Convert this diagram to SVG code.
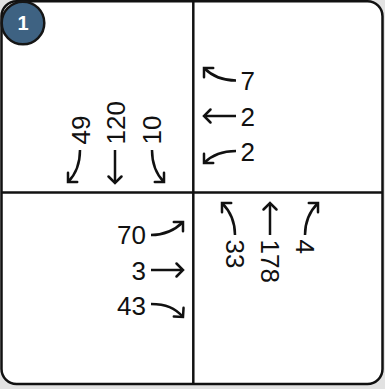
<svg xmlns="http://www.w3.org/2000/svg" width="385" height="389" viewBox="0 0 385 389">
  <defs>
    <marker id="ah" markerUnits="userSpaceOnUse" viewBox="-10 -10 20 20" markerWidth="20" markerHeight="20" refX="0" refY="0" orient="auto" overflow="visible">
      <path d="M-6.5,-6.5 L0,0 L-6.5,6.5" fill="none" stroke="#111" stroke-width="2.5" stroke-linecap="round" stroke-linejoin="miter"/>
    </marker>
  </defs>
  <style>
    .lbl { font-family: "Liberation Sans", Arial, sans-serif; font-size: 26px; fill: #111; }
    .arr { fill: none; stroke: #111; stroke-width: 2.5; marker-end: url(#ah); }
    .frame { fill: #fff; stroke: #111; stroke-width: 2.5; }
    .div { stroke: #111; stroke-width: 2.5; }
  </style>
  <rect x="0" y="0" width="385" height="389" fill="#e2e2e2"/>
  <g id="frame">
    <rect class="frame" x="1.5" y="1.3" width="381" height="382.7" rx="15" ry="15"/>
    <line class="div" x1="193.3" y1="1.3" x2="193.3" y2="384"/>
    <line class="div" x1="1.5" y1="192.5" x2="382.5" y2="192.5"/>
  </g>
  <g id="badge">
    <circle cx="23" cy="23" r="21.3" fill="#3e6282" stroke="#151515" stroke-width="2.5"/>
    <text x="23" y="30" text-anchor="middle" font-family="'Liberation Sans', Arial, sans-serif" font-size="20" font-weight="bold" fill="#fff">1</text>
  </g>
  <g id="north-labels">
    <text class="lbl" transform="translate(90,144.5) rotate(-90)">49</text>
    <text class="lbl" transform="translate(124.5,144.5) rotate(-90)">120</text>
    <text class="lbl" transform="translate(160.5,144.5) rotate(-90)">10</text>
  </g>
  <g id="east-labels">
    <text class="lbl" x="240.5" y="90">7</text>
    <text class="lbl" x="240.5" y="125.5">2</text>
    <text class="lbl" x="240.5" y="161">2</text>
  </g>
  <g id="west-labels">
    <text class="lbl" x="146" y="244" text-anchor="end">70</text>
    <text class="lbl" x="146" y="279.5" text-anchor="end">3</text>
    <text class="lbl" x="146" y="315" text-anchor="end">43</text>
  </g>
  <g id="south-labels">
    <text class="lbl" transform="translate(225.7,239.5) rotate(90)">33</text>
    <text class="lbl" transform="translate(260.7,239.5) rotate(90)">178</text>
    <text class="lbl" transform="translate(295.7,239.5) rotate(90)">4</text>
  </g>
  <g id="connectors">
    <path class="arr" d="M80,150 C80,165 76,174 68,182"/>
    <path class="arr" d="M115,150 L115,183"/>
    <path class="arr" d="M152,150 C152,165 156,174 164,182"/>
    <path class="arr" d="M236,80.5 C221,80.5 212,76 204,68"/>
    <path class="arr" d="M236,116 L204,116"/>
    <path class="arr" d="M236,151 C221,151 212,155 204,163"/>
    <path class="arr" d="M151,235 C166,235 175,230 183,222"/>
    <path class="arr" d="M151,270 L183,270"/>
    <path class="arr" d="M151,304 C166,304 175,308 183,317"/>
    <path class="arr" d="M235,235 C235,220 230,211 222,203"/>
    <path class="arr" d="M270,235 L270,203"/>
    <path class="arr" d="M305,235 C305,220 310,211 318,203"/>
  </g>
</svg>
